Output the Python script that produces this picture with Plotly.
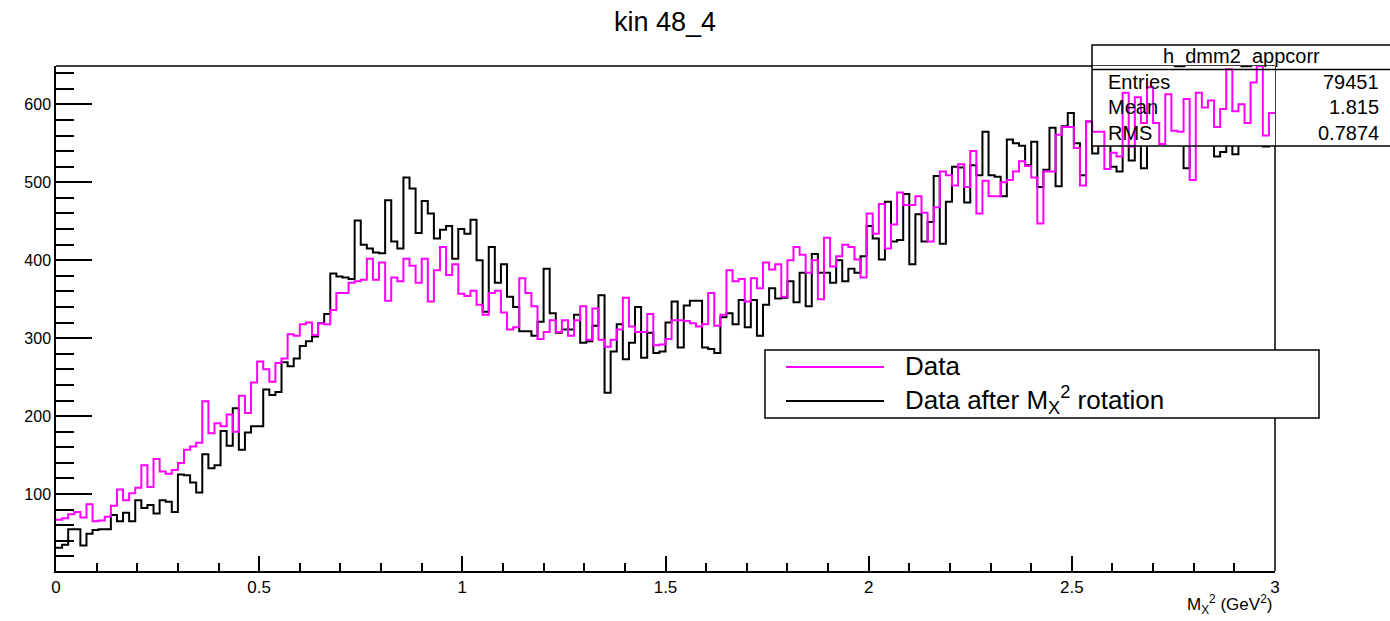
import numpy as np
import plotly.graph_objects as go

# ---------------- data ----------------
x_min, x_max, n_bins = 0.0, 3.0, 200

data_counts = [
    67, 69, 74, 77, 70, 87, 65, 66, 71, 85,
    106, 92, 101, 108, 137, 109, 145, 129, 126, 131,
    140, 157, 161, 166, 219, 178, 191, 187, 202, 180,
    226, 204, 243, 270, 260, 244, 268, 274, 305, 303,
    318, 320, 304, 319, 318, 336, 358, 358, 371, 373,
    375, 402, 375, 397, 348, 378, 373, 402, 393, 371,
    402, 347, 387, 417, 381, 395, 357, 354, 361, 343,
    330, 358, 361, 333, 311, 314, 377, 358, 341, 299,
    308, 323, 308, 323, 303, 323, 341, 298, 338, 298,
    289, 298, 311, 352, 315, 308, 308, 331, 291, 292,
    299, 323, 323, 322, 319, 315, 318, 358, 316, 330,
    387, 373, 376, 347, 377, 364, 397, 388, 395, 353,
    400, 417, 407, 384, 400, 350, 429, 392, 405, 420,
    417, 401, 378, 460, 434, 472, 415, 446, 487, 471,
    471, 482, 461, 424, 468, 514, 509, 496, 523, 494,
    540, 460, 502, 482, 482, 500, 503, 514, 527, 521,
    506, 447, 514, 514, 561, 571, 571, 544, 496, 578,
    565, 565, 517, 538, 533, 615, 546, 609, 576, 622,
    576, 549, 613, 566, 565, 607, 503, 615, 596, 605,
    571, 594, 645, 591, 600, 576, 628, 649, 560, 589,
]

rotated_counts = [
    31, 35, 55, 55, 34, 49, 54, 55, 55, 73,
    65, 76, 65, 92, 82, 86, 75, 92, 90, 77,
    125, 124, 115, 102, 151, 133, 137, 181, 162, 210,
    157, 179, 187, 187, 234, 227, 231, 269, 264, 274,
    290, 296, 302, 319, 331, 383, 379, 378, 376, 451,
    420, 415, 410, 409, 477, 424, 415, 506, 492, 435,
    476, 460, 428, 439, 444, 402, 440, 434, 452, 400,
    334, 417, 371, 395, 353, 340, 309, 309, 303, 321,
    389, 332, 307, 311, 311, 330, 294, 296, 316, 355,
    230, 283, 318, 273, 294, 340, 275, 307, 281, 283,
    320, 347, 288, 342, 348, 348, 288, 286, 281, 327,
    332, 318, 349, 314, 349, 303, 343, 364, 351, 352,
    373, 346, 384, 341, 408, 384, 384, 371, 400, 373,
    389, 384, 405, 444, 428, 401, 475, 424, 426, 485,
    395, 459, 424, 449, 508, 421, 475, 520, 519, 474,
    522, 509, 565, 509, 507, 482, 555, 550, 547, 522,
    552, 494, 516, 570, 495, 572, 589, 550, 509, 578,
    537, 575, 560, 520, 514, 565, 528, 570, 518, 580,
    560, 575, 555, 570, 585, 518, 575, 565, 580, 560,
    533, 539, 575, 536, 590, 565, 580, 560, 546, 570,
]

series_names = ["Data", "Data after M<sub>X</sub><sup>2</sup> rotation"]
series_colors = ["#ff00ff", "#000000"]

title_text = "kin 48_4"
stats_title = "h_dmm2_appcorr"
stats_labels = ["Entries", "Mean", "RMS"]
stats_values = ["79451", "1.815", "0.7874"]
x_title = "M<sub>X</sub><sup>2</sup> (GeV<sup>2</sup>)"

# ---------------- layout geometry (pixels) ----------------
W, H = 1390, 621
L, R, T, B = 56, 115, 66, 50
PW, PH = W - L - R, H - T - B
FONT = "Liberation Sans, Arial, Helvetica, sans-serif"
y_lo, y_hi = 1.3, 649.2


def xp(px):
    return (px - L) / PW


def yp(py):
    return (H - B - py) / PH


def xd(px):  # pixel -> data x
    return x_min + xp(px) * (x_max - x_min)


def yd(py):  # pixel -> data y
    return y_lo + yp(py) * (y_hi - y_lo)


edges = np.linspace(x_min, x_max, n_bins + 1)


def step_xy(counts):
    return list(edges), list(counts) + [counts[-1]]


fig = go.Figure()

# black histogram (drawn first, hidden by the stats box)
xs, ys = step_xy(rotated_counts)
fig.add_trace(go.Scatter(x=xs, y=ys, mode="lines", line=dict(shape="hv", color=series_colors[1], width=2),
                         name=series_names[1], showlegend=False, hoverinfo="skip"))

# stats box white fill inside the frame (between the two histograms, like ROOT's draw order)
bx0, by0 = xd(1092), yd(146)
fig.add_trace(go.Scatter(x=[bx0, x_max + 0.1, x_max + 0.1, bx0, bx0],
                         y=[by0, by0, y_hi + 50, y_hi + 50, by0],
                         mode="lines", fill="toself", fillcolor="white",
                         line=dict(width=0, color="white"), showlegend=False, hoverinfo="skip"))

# magenta histogram (drawn last, over the stats box)
xs, ys = step_xy(data_counts)
fig.add_trace(go.Scatter(x=xs, y=ys, mode="lines", line=dict(shape="hv", color=series_colors[0], width=2),
                         name=series_names[0], showlegend=False, hoverinfo="skip"))

fig.update_layout(
    width=W, height=H,
    margin=dict(l=L, r=R, t=T, b=B),
    paper_bgcolor="white", plot_bgcolor="white",
    font=dict(family=FONT, color="black", size=16),
    showlegend=False,
)

fig.update_xaxes(
    range=[x_min, x_max], showgrid=False, zeroline=False,
    showline=True, linecolor="black", linewidth=1.5, mirror=False,
    ticks="inside", ticklen=15, tickwidth=1.5, tickcolor="black", dtick=0.5, tick0=0,
    minor=dict(ticks="inside", ticklen=8, tickwidth=1.5, tickcolor="black", dtick=0.1),
    tickfont=dict(size=17, family=FONT),
)
fig.update_yaxes(
    range=[y_lo, y_hi], showgrid=False, zeroline=False,
    showline=True, linecolor="black", linewidth=1.5, mirror=False,
    ticks="inside", ticklen=36, tickwidth=1.5, tickcolor="black", dtick=100, tick0=0,
    minor=dict(ticks="inside", ticklen=18, tickwidth=1.5, tickcolor="black", dtick=20),
    tickfont=dict(size=16, family=FONT),
)

shapes = []
anns = []

# top and right frame lines (below traces so the stats box fill hides them)
shapes.append(dict(type="line", xref="paper", yref="paper", x0=0, x1=1, y0=1, y1=1,
                   line=dict(color="black", width=1.5), layer="below"))
shapes.append(dict(type="line", xref="paper", yref="paper", x0=1, x1=1, y0=0, y1=1,
                   line=dict(color="black", width=1.5), layer="below"))

# title
anns.append(dict(text=title_text, x=xp(665), y=yp(22), xref="paper", yref="paper",
                 xanchor="center", yanchor="middle", showarrow=False, font=dict(size=27)))

# stats box outline
shapes.append(dict(type="rect", xref="paper", yref="paper", x0=xp(1092), x1=xp(1420),
                   y0=yp(146), y1=yp(45), fillcolor="rgba(0,0,0,0)", line=dict(color="black", width=1.5),
                   layer="above"))
shapes.append(dict(type="line", xref="paper", yref="paper", x0=xp(1092), x1=xp(1420),
                   y0=yp(69.5), y1=yp(69.5), line=dict(color="black", width=1.5), layer="above"))
anns.append(dict(text=stats_title, x=xp(1241), y=yp(57), xref="paper", yref="paper",
                 xanchor="center", yanchor="middle", showarrow=False, font=dict(size=20)))
for k, (lab, val) in enumerate(zip(stats_labels, stats_values)):
    yy = yp(82 + 25.5 * k)
    anns.append(dict(text=lab, x=xp(1106), y=yy, xref="paper", yref="paper",
                     xanchor="left", yanchor="middle", showarrow=False, font=dict(size=20)))
    anns.append(dict(text=val, x=xp(1381), y=yy, xref="paper", yref="paper",
                     xanchor="right", yanchor="middle", showarrow=False, font=dict(size=20)))

# legend box
shapes.append(dict(type="rect", xref="paper", yref="paper", x0=xp(765), x1=xp(1319),
                   y0=yp(418), y1=yp(350), fillcolor="white", line=dict(color="black", width=1.5),
                   layer="above"))
for k, (name, col) in enumerate(zip(series_names, series_colors)):
    yy = 367 + 34 * k
    shapes.append(dict(type="line", xref="paper", yref="paper", x0=xp(786), x1=xp(884),
                       y0=yp(yy), y1=yp(yy), line=dict(color=col, width=2), layer="above"))
    anns.append(dict(text=name, x=xp(903), y=yp(yy - 1), xref="paper", yref="paper",
                     xanchor="left", yanchor="middle", showarrow=False, font=dict(size=26)))

# x-axis title
anns.append(dict(text=x_title, x=xp(1274), y=yp(604), xref="paper", yref="paper",
                 xanchor="right", yanchor="middle", showarrow=False, font=dict(size=17)))

fig.update_layout(shapes=shapes, annotations=anns)
fig.write_html("out.html", config={"displayModeBar": False},
               post_script="document.body.style.margin='0';document.body.style.padding='0';")
